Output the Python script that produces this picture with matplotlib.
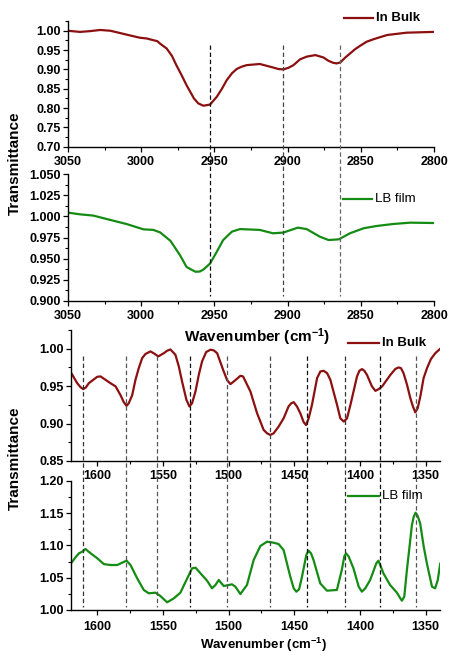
import matplotlib
matplotlib.use('Agg')
import matplotlib.pyplot as plt
from matplotlib.ticker import MultipleLocator, FormatStrFormatter
import matplotlib.transforms as mtransforms

plt.rcParams['font.family'] = ['Liberation Sans', 'DejaVu Sans']
plt.rcParams['font.weight'] = 'bold'
plt.rcParams['mathtext.fontset'] = 'custom'
plt.rcParams['mathtext.rm'] = 'Liberation Sans:bold'
plt.rcParams['mathtext.bf'] = 'Liberation Sans:bold'
plt.rcParams['mathtext.default'] = 'bf'

# ---------------- data ----------------
# CH stretching region, In Bulk
wn_ch_bulk = [3050, 3041.8, 3035, 3028, 3021, 3010, 3001, 2996.3, 2989, 2987.2, 2982.6, 2979,
              2976, 2972.4, 2969, 2964, 2961, 2957.5, 2953, 2948.4, 2945, 2941.6, 2938,
              2934.8, 2931.4, 2928, 2919, 2910, 2906.3, 2903, 2899.5, 2896, 2891.5, 2887,
              2881, 2875.6, 2872, 2868.8, 2866.5, 2864, 2860.8, 2857.4, 2854, 2850.5, 2846,
              2841.4, 2832, 2818.7, 2800.4]
t_ch_bulk = [1.000, 0.997, 0.999, 1.002, 1.000, 0.990, 0.982, 0.980, 0.973, 0.967, 0.954, 0.935,
             0.911, 0.885, 0.859, 0.825, 0.812, 0.806, 0.809, 0.829, 0.849, 0.872, 0.890,
             0.901, 0.907, 0.911, 0.914, 0.905, 0.901, 0.900, 0.904, 0.911, 0.926, 0.933,
             0.937, 0.931, 0.922, 0.917, 0.9155, 0.918, 0.930, 0.941, 0.952, 0.961, 0.9716,
             0.978, 0.989, 0.995, 0.997]

# CH stretching region, LB film
wn_ch_lb = [3050, 3041.8, 3032.7, 3021, 3010, 2998.5, 2991.7, 2987, 2980, 2973.5, 2969,
            2963, 2960, 2957.5, 2953, 2948.4, 2944, 2938, 2932.5, 2919, 2910, 2903, 2893,
            2887, 2878, 2872, 2865, 2857.4, 2848, 2839, 2828, 2816.4, 2800.4]
t_ch_lb = [1.0045, 1.0025, 1.001, 0.9958, 0.991, 0.9847, 0.984, 0.981, 0.971, 0.954, 0.940,
           0.9344, 0.9346, 0.937, 0.944, 0.958, 0.972, 0.982, 0.985, 0.984, 0.980, 0.9808,
           0.9867, 0.985, 0.976, 0.972, 0.9728, 0.980, 0.986, 0.9887, 0.991, 0.9926, 0.9922]

# fingerprint region, In Bulk
wn_fp_bulk = [1619.6, 1615.3, 1612.8, 1610.7, 1608.7, 1606.4, 1600, 1597.5, 1595, 1590, 1586,
              1582.3, 1579.8, 1577.7, 1576, 1573.4, 1570.9, 1568.4, 1565.8, 1563.3, 1559.5,
              1556.4, 1553.6, 1549.3, 1546.8, 1544.3, 1540.5, 1537.9, 1535.4, 1532.1, 1529.8,
              1527.8, 1525.2, 1522.7, 1520.2, 1517.1, 1513.8, 1511.3, 1508.7, 1503.7, 1501.1,
              1498.6, 1496, 1493.5, 1491, 1489, 1483.4, 1478.3, 1475.8, 1473.3, 1470.7,
              1468.2, 1465.7, 1461.9, 1458.1, 1454.3, 1452.2, 1450.4, 1447.9, 1445.4, 1442.8,
              1441, 1439, 1436.5, 1432.6, 1430.1, 1427.6, 1425, 1422.5, 1417.4, 1414.9,
              1412.3, 1409.8, 1407.2, 1402.2, 1400.4, 1398.4, 1396.6, 1394.6, 1390.8, 1388.2,
              1385.7, 1383.1, 1376.8, 1373, 1370.5, 1368.7, 1366.7, 1364.1, 1361.6, 1359.6,
              1357.8, 1356, 1354, 1351.5, 1348.9, 1345.9, 1342.6, 1338.8]
t_fp_bulk = [0.967, 0.954, 0.9487, 0.946, 0.9482, 0.954, 0.9625, 0.963, 0.960, 0.954, 0.9496,
             0.938, 0.9286, 0.9237, 0.9272, 0.938, 0.9585, 0.974, 0.9875, 0.993, 0.9964,
             0.9933, 0.9897, 0.994, 0.9973, 0.999, 0.992, 0.9763, 0.956, 0.9317, 0.9228,
             0.9272, 0.943, 0.965, 0.983, 0.9955, 0.9987, 0.9978, 0.994, 0.9696, 0.958,
             0.9527, 0.9563, 0.960, 0.9638, 0.963, 0.943, 0.9138, 0.9027, 0.8915, 0.887,
             0.8848, 0.887, 0.896, 0.907, 0.923, 0.9272, 0.9286, 0.9228, 0.9138, 0.9018,
             0.898, 0.907, 0.925, 0.9607, 0.9696, 0.9705, 0.9674, 0.9585, 0.925, 0.907,
             0.9027, 0.907, 0.925, 0.963, 0.9705, 0.9728, 0.9705, 0.965, 0.9496, 0.9437,
             0.946, 0.9496, 0.965, 0.973, 0.975, 0.974, 0.967, 0.9518, 0.934, 0.9228,
             0.915, 0.9205, 0.936, 0.9607, 0.974, 0.9862, 0.994, 1.000]

# fingerprint region, LB film
wn_fp_lb = [1619.6, 1616.6, 1614, 1611.5, 1609, 1605, 1600, 1595, 1590, 1584.8, 1581, 1577.7,
            1574.7, 1569.6, 1564.6, 1560.8, 1555.7, 1551.9, 1546.8, 1541.7, 1536.7, 1532.1,
            1527.8, 1525.2, 1521.4, 1516.4, 1512.6, 1510, 1507.5, 1503.7, 1499.9, 1497.4,
            1494.8, 1491, 1486, 1480.9, 1475.8, 1470.7, 1465.7, 1461.9, 1458.1, 1453,
            1450.4, 1448.4, 1446.3, 1444.1, 1440.8, 1439.1, 1437.2, 1435.3, 1430.2, 1425.1,
            1417.5, 1413.8, 1411.8, 1410.5, 1408.5, 1404.9, 1400.9, 1398.5, 1395.9, 1392.2,
            1387.5, 1385.9, 1384, 1382.1, 1377, 1371.8, 1369.2, 1368, 1366.2, 1364.2,
            1362.2, 1360.4, 1359, 1357.6, 1356, 1354.1, 1351.4, 1349, 1345.1, 1342.7,
            1340.7, 1338.8]
t_fp_lb = [1.0732, 1.0814, 1.0876, 1.0902, 1.0943, 1.0876, 1.080, 1.071, 1.0696, 1.0696, 1.0732,
           1.0763, 1.0696, 1.049, 1.031, 1.0258, 1.0268, 1.0216, 1.0119, 1.018, 1.0268,
           1.0464, 1.0644, 1.0655, 1.0567, 1.0454, 1.0335, 1.0387, 1.0464, 1.0371, 1.0387,
           1.0397, 1.036, 1.0247, 1.0387, 1.0773, 1.099, 1.1057, 1.1041, 1.102, 1.0928,
           1.0515, 1.0335, 1.0283, 1.032, 1.0515, 1.085, 1.0918, 1.0876, 1.0773, 1.0412,
           1.0299, 1.031, 1.0619, 1.0835, 1.0876, 1.0825, 1.0644, 1.036, 1.0283, 1.0335,
           1.0464, 1.0722, 1.0763, 1.067, 1.0567, 1.0387, 1.0268, 1.018, 1.0144, 1.0206,
           1.0619, 1.098, 1.1314, 1.1443, 1.1505, 1.1454, 1.134, 1.098, 1.0722, 1.036,
           1.0335, 1.0464, 1.0722]

# marked band positions (cm-1)
peaks_ch = [2953, 2903, 2864]
peaks_fp = [1610.7, 1578.0, 1554.2, 1529.0, 1501.1, 1468.7, 1440.3, 1411.1, 1385.0, 1357.3]

labels = ['In Bulk', 'LB film']

# ---------------- styling ----------------
RED = '#8c1010'
GREEN = '#148c14'
W, H = 450, 655
fig = plt.figure(figsize=(4.5, 6.55), dpi=100)


def box(l, t, r, b):
    return [l / W, 1 - b / H, (r - l) / W, (b - t) / H]


def style(ax, xlim, ylim, ymaj, ymin, yfmt, xpad=3.3):
    ax.set_xlim(*xlim)
    ax.set_ylim(*ylim)
    for s in ('top', 'right'):
        ax.spines[s].set_visible(False)
    for s in ('left', 'bottom'):
        ax.spines[s].set_linewidth(1.0)
    ax.xaxis.set_major_locator(MultipleLocator(50))
    ax.xaxis.set_minor_locator(MultipleLocator(25))
    ax.yaxis.set_major_locator(MultipleLocator(ymaj))
    ax.yaxis.set_minor_locator(MultipleLocator(ymin))
    ax.yaxis.set_major_formatter(FormatStrFormatter(yfmt))
    ax.xaxis.set_major_formatter(FormatStrFormatter('%d'))
    ax.tick_params(which='major', direction='out', length=3.5, width=0.9, labelsize=9)
    ax.tick_params(which='minor', direction='out', length=2, width=0.8)
    ax.tick_params(axis='y', which='major', pad=1.5)
    ax.tick_params(axis='x', which='major', pad=xpad)
    for lab in ax.get_xticklabels() + ax.get_yticklabels():
        lab.set_fontweight('bold')
    ax.patch.set_alpha(0)


ax1 = fig.add_axes(box(68, 20.7, 434, 146.7))
ax2 = fig.add_axes(box(68, 174.3, 434, 300.7))
ax3 = fig.add_axes(box(71, 330, 440, 461))
ax4 = fig.add_axes(box(71, 480.7, 440, 610))

kw = dict(lw=1.6, solid_joinstyle='round', solid_capstyle='round')
ax1.plot(wn_ch_bulk, t_ch_bulk, color=RED, **kw)
ax2.plot(wn_ch_lb, t_ch_lb, color=GREEN, **kw)
ax3.plot(wn_fp_bulk, t_fp_bulk, color=RED, **kw)
ax4.plot(wn_fp_lb, t_fp_lb, color=GREEN, **kw)

style(ax1, (3050, 2800), (0.70, 1.026), 0.05, 0.025, '%.2f')
style(ax2, (3050, 2800), (0.90, 1.05), 0.025, 0.0125, '%.3f')
style(ax3, (1620, 1339), (0.85, 1.025), 0.05, 0.025, '%.2f')
style(ax4, (1620, 1339), (1.00, 1.20), 0.05, 0.025, '%.2f', xpad=4.5)

# dashed marker lines spanning both panels of each pair
tr_top = mtransforms.blended_transform_factory(ax1.transData, fig.transFigure)
ch_cols = ['#111111', '#444444', '#666666']
for p, c in zip(peaks_ch, ch_cols):
    fig.add_artist(plt.Line2D([p, p], [1 - 45 / H, 1 - 296 / H], transform=tr_top,
                              color=c, lw=0.9, dashes=(3.5, 2.2)))
tr_bot = mtransforms.blended_transform_factory(ax3.transData, fig.transFigure)
fp_cols = ['#333333', '#555555', '#555555', '#111111', '#555555', '#444444',
           '#111111', '#333333', '#111111', '#555555']
for p, c in zip(peaks_fp, fp_cols):
    fig.add_artist(plt.Line2D([p, p], [1 - 356 / H, 1 - 607 / H], transform=tr_bot,
                              color=c, lw=0.9, dashes=(3.5, 2.2)))


# legends (drawn as line + text in figure pixel coordinates)
def legend(x0, x1, y, text, color, weight):
    fig.add_artist(plt.Line2D([x0 / W, x1 / W], [1 - y / H, 1 - y / H],
                              transform=fig.transFigure, color=color, lw=1.6))
    fig.text((x1 + 3) / W, 1 - y / H, text, ha='left', va='center',
             fontsize=9.5, fontweight=weight, color='black')


legend(344, 373, 18.3, labels[0], RED, 'bold')
legend(343, 372, 199, labels[1], GREEN, 'normal')
legend(348, 379, 343.3, labels[0], RED, 'bold')
legend(348, 379, 496, labels[1], GREEN, 'normal')

# axis titles
fig.text(15 / W, 1 - 163 / H, 'Transmittance', rotation=90, ha='center', va='center',
         fontsize=11, fontweight='bold')
fig.text(15 / W, 1 - 458 / H, 'Transmittance', rotation=90, ha='center', va='center',
         fontsize=11, fontweight='bold')
fig.text(257 / W, 1 - 337 / H, r'Wavenumber (cm$^{-1}$)', ha='center', va='center',
         fontsize=11, fontweight='bold')
fig.text(264 / W, 1 - 645 / H, r'Wavenumber (cm$^{-1}$)', ha='center', va='center',
         fontsize=9.5, fontweight='bold')

fig.savefig('out.png', dpi=100)
